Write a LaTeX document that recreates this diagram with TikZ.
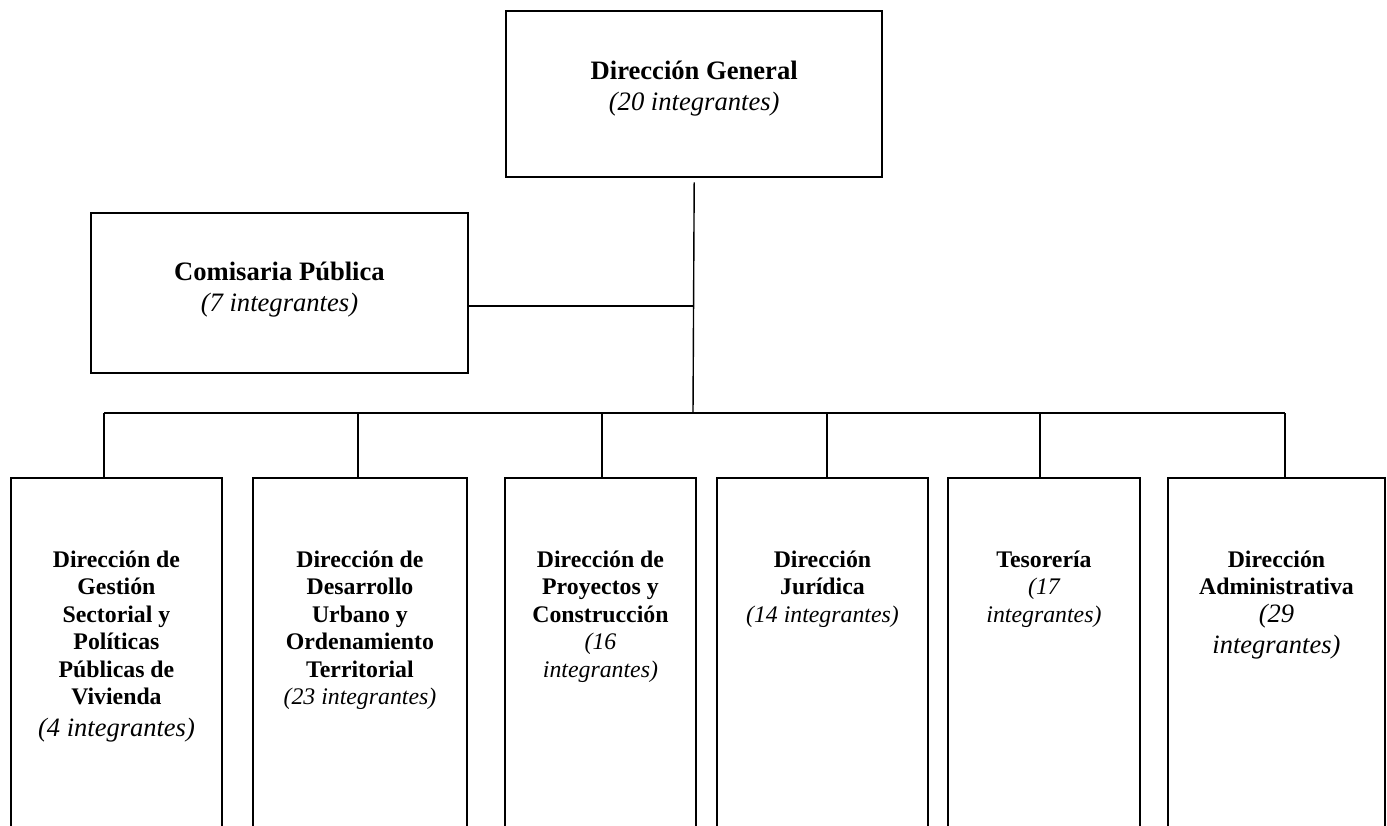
\documentclass[tikz,border=0pt]{standalone}
\usepackage{fontspec}
\setmainfont{Liberation Serif}
\begin{document}
\begin{tikzpicture}[x=1pt,y=-1pt,
  boxa/.style={draw, line width=2.4pt, inner sep=0pt, anchor=north west},
  boxb/.style={draw, line width=1.9pt, inner sep=0pt, anchor=north west},
  conn/.style={draw, line width=1.4pt},
  txt/.style={anchor=base, inner sep=0pt}]
\useasboundingbox (0,0) rectangle (1387,825);
\clip (0,0) rectangle (1387,825);
\newcommand{\bigtxt}{\fontsize{26.6}{31}\selectfont}
\newcommand{\smtxt}{\fontsize{23.8}{27.5}\selectfont}
\newcommand{\bigit}{\fontsize{26.5}{31}\selectfont\itshape\mdseries}

% top boxes
\node[boxa, minimum width=376pt, minimum height=166pt] (dg) at (505,10) {};
\node[boxb, minimum width=377pt, minimum height=160pt] (cp) at (90,212) {};
\node[txt] (tdg) at ([yshift=-69pt]dg.north) {\parbox[t]{360pt}{\centering\bigtxt\textbf{Dirección General}\\\textit{(20 integrantes)}}};
\node[txt] (tcp) at ([yshift=-68pt]cp.north) {\parbox[t]{360pt}{\centering\bigtxt\textbf{Comisaria Pública}\\\textit{(7 integrantes)}}};

% bottom boxes
\node[boxb, minimum width=211pt, minimum height=420pt] (b1) at (10,477) {};
\node[boxb, minimum width=214pt, minimum height=420pt] (b2) at (252,477) {};
\node[boxb, minimum width=191pt, minimum height=420pt] (b3) at (504,477) {};
\node[boxb, minimum width=211pt, minimum height=420pt] (b4) at (716,477) {};
\node[boxb, minimum width=192pt, minimum height=420pt] (b5) at (947,477) {};
\node[boxb, minimum width=217pt, minimum height=420pt] (b6) at (1167,477) {};

\node[txt] (t1) at ([yshift=-90pt]b1.north) {\parbox[t]{205pt}{\centering\smtxt\bfseries
  Dirección de\\Gestión\\Sectorial y\\Políticas\\Públicas de\\Vivienda\\[4pt]{\bigit (4 integrantes)}}};
\node[txt] (t2) at ([yshift=-90pt]b2.north) {\parbox[t]{208pt}{\centering\smtxt\bfseries
  Dirección de\\Desarrollo\\Urbano y\\Ordenamiento\\Territorial\\{\itshape\mdseries (23 integrantes)}}};
\node[txt] (t3) at ([yshift=-90pt]b3.north) {\parbox[t]{185pt}{\centering\smtxt\bfseries
  Dirección de\\Proyectos y\\Construcción\\{\itshape\mdseries (16}\\{\itshape\mdseries integrantes)}}};
\node[txt] (t4) at ([yshift=-90pt]b4.north) {\parbox[t]{205pt}{\centering\smtxt\bfseries
  Dirección\\Jurídica\\{\itshape\mdseries (14 integrantes)}}};
\node[txt] (t5) at ([yshift=-90pt]b5.north) {\parbox[t]{186pt}{\centering\smtxt\bfseries
  Tesorería\\{\itshape\mdseries (17}\\{\itshape\mdseries integrantes)}}};
\node[txt] (t6) at ([yshift=-90pt]b6.north) {\parbox[t]{211pt}{\centering\smtxt\bfseries
  Dirección\\Administrativa\\{\bigit (29}\\[4pt]{\bigit integrantes)}}};

% connectors
\coordinate (bus) at (693,413);
\coordinate (j) at (693,306);
\coordinate (d1) at (104,413);
\coordinate (d2) at (358,413);
\coordinate (d3) at (602,413);
\coordinate (d4) at (827,413);
\coordinate (d5) at (1040,413);
\coordinate (d6) at (1285,413);
\draw[conn] ([yshift=-4pt]dg.south) -- (bus);
\draw[conn] (cp.east |- j) -- (j);
\draw[conn] (d1) -- (d6);
\foreach \i in {1,...,6} {\draw[conn] (d\i) -- (d\i |- b\i.north);}
\end{tikzpicture}
\end{document}
